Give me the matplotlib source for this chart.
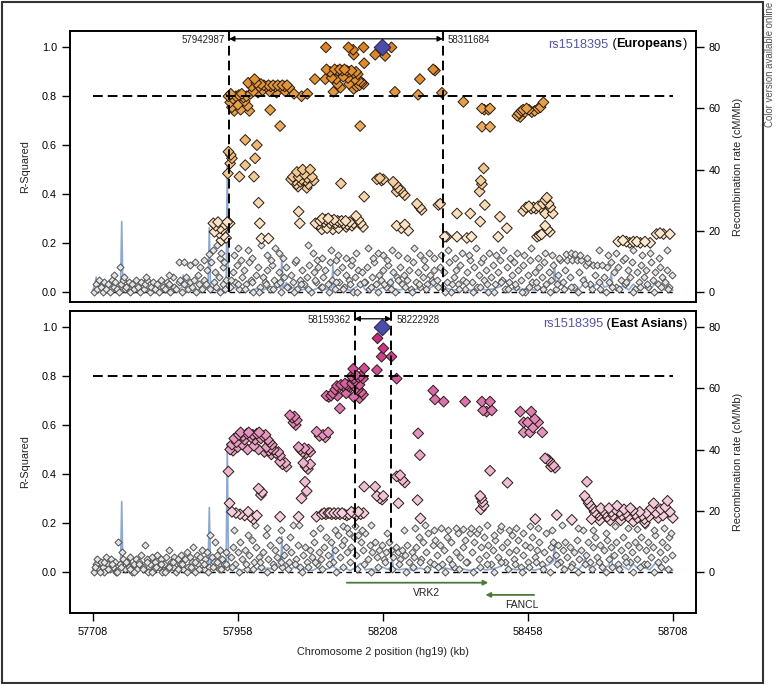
import numpy as np
import matplotlib
matplotlib.use("Agg")
import matplotlib.pyplot as plt
from matplotlib.colors import LinearSegmentedColormap
from matplotlib.patches import Rectangle

plt.rcParams['font.family'] = ['Liberation Sans', 'DejaVu Sans']

# ---- data (positions in kb, r2) ----
lead_pos = 58206
lead_name = "rs1518395"

eur_block = (57942.987, 58311.684)
eas_block = (58159.362, 58222.928)

eur_col = [
    (58110, 1.0), (58149, 1.0), (58157, 0.99), (58175, 1.0), (58223, 1.0), (58158, 0.97), (58195, 0.97),
    (58212, 0.965), (58176, 0.935),
    (58111, 0.91), (58117, 0.9), (58125, 0.91), (58130, 0.905), (58134, 0.91), (58138, 0.905), (58142, 0.91),
    (58146, 0.905), (58150, 0.9), (58154, 0.905), (58158, 0.895), (58162, 0.9), (58165, 0.89), (58295, 0.91),
    (58298, 0.905),
    (58091, 0.87), (58109, 0.87), (58272, 0.87), (58120, 0.875), (58128, 0.87), (58140, 0.88), (58148, 0.875),
    (58160, 0.87), (58166, 0.865), (58170, 0.86), (58172, 0.855), (58168, 0.845), (58163, 0.84), (58158, 0.83),
    (58175, 0.85), (58150, 0.85), (58130, 0.85), (58135, 0.835),
    (57976, 0.855), (57982, 0.84), (57987, 0.87), (57990, 0.855), (57995, 0.84), (57998, 0.85), (58003, 0.845),
    (58007, 0.84), (58011, 0.845), (58015, 0.84), (58019, 0.845), (58023, 0.84), (58027, 0.845), (58031, 0.84),
    (58035, 0.845), (58039, 0.84), (58043, 0.845), (58047, 0.835), (57985, 0.82), (57993, 0.815), (58001, 0.825),
    (58013, 0.82), (58025, 0.815), (58040, 0.82), (58055, 0.81), (58068, 0.8), (58078, 0.81),
    (58123, 0.818), (58229, 0.818), (58269, 0.806), (58310, 0.814), (57942, 0.8), (57946, 0.81), (57950, 0.79),
    (57955, 0.8), (57960, 0.805), (57965, 0.81), (57968, 0.795), (57980, 0.81), (57973, 0.8),
    (57945, 0.775), (57948, 0.755), (57952, 0.74), (57958, 0.765), (57963, 0.745), (57970, 0.78), (57975, 0.76),
    (57978, 0.74), (58014, 0.744), (58347, 0.777), (58379, 0.75), (58383, 0.745), (58393, 0.75), (58390, 0.745),
    (58440, 0.72), (58443, 0.73), (58447, 0.74), (58450, 0.745), (58453, 0.735), (58456, 0.75), (58460, 0.745),
    (58465, 0.735), (58470, 0.74), (58476, 0.75), (58480, 0.755), (58485, 0.775), (58445, 0.715),
    (58031, 0.678), (58169, 0.678), (58379, 0.675), (58393, 0.675),
    (57971, 0.621), (57991, 0.6), (57942, 0.573), (57946, 0.56), (57948, 0.546), (57988, 0.546), (57971, 0.518),
    (57961, 0.471), (57986, 0.471), (57941, 0.484), (57945, 0.525),
    (58050, 0.46), (58053, 0.47), (58056, 0.455), (58059, 0.44), (58060, 0.49), (58063, 0.47), (58066, 0.45),
    (58068, 0.46), (58070, 0.5), (58073, 0.48), (58075, 0.455), (58078, 0.465), (58080, 0.44), (58083, 0.5),
    (58086, 0.47), (58089, 0.455), (58062, 0.43), (58077, 0.425),
    (58136, 0.443), (58198, 0.46), (58203, 0.465), (58206, 0.455), (58209, 0.46), (58226, 0.45), (58230, 0.44),
    (58234, 0.425), (58238, 0.42), (58242, 0.405), (58246, 0.395), (58232, 0.41),
    (58176, 0.389), (58267, 0.36), (58272, 0.345), (58275, 0.335), (57994, 0.364), (58304, 0.355), (58307, 0.36),
    (58063, 0.328),
    (58092, 0.28), (58097, 0.275), (58100, 0.29), (58104, 0.3), (58107, 0.285), (58110, 0.295), (58114, 0.3),
    (58117, 0.28), (58120, 0.29), (58124, 0.295), (58127, 0.28), (58130, 0.29), (58133, 0.285), (58137, 0.29),
    (58140, 0.28), (58144, 0.29), (58147, 0.275), (58151, 0.285), (58155, 0.27), (58158, 0.28), (58162, 0.31),
    (58166, 0.295), (58170, 0.28), (58174, 0.265), (58103, 0.255), (58112, 0.26), (58122, 0.255), (58132, 0.26),
    (58145, 0.265),
    (57996, 0.28), (58065, 0.28), (58232, 0.27), (58240, 0.26), (58246, 0.275), (58252, 0.25),
    (57916, 0.28), (57920, 0.27), (57924, 0.285), (57928, 0.26), (57932, 0.255), (57936, 0.275), (57940, 0.285),
    (57944, 0.28), (57918, 0.245), (57926, 0.24), (57934, 0.23), (57930, 0.21), (57938, 0.22),
    (57999, 0.218), (58011, 0.218), (58318, 0.225),
    (58384, 0.355), (58336, 0.32), (58359, 0.32), (58410, 0.307), (58376, 0.287), (58382, 0.505), (58377, 0.455),
    (58379, 0.44), (58375, 0.41),
    (58450, 0.33), (58455, 0.345), (58460, 0.35), (58464, 0.34), (58468, 0.345), (58472, 0.34), (58476, 0.35),
    (58480, 0.345), (58484, 0.36), (58488, 0.375), (58491, 0.385), (58494, 0.36), (58497, 0.345), (58488, 0.32),
    (58501, 0.32),
    (58422, 0.26), (58488, 0.27), (58492, 0.255), (58496, 0.245), (58315, 0.225), (58336, 0.225), (58353, 0.22),
    (58361, 0.225), (58407, 0.225), (58474, 0.225), (58478, 0.23), (58482, 0.235),
    (58614, 0.205), (58622, 0.21), (58628, 0.205), (58634, 0.2), (58640, 0.205), (58646, 0.205), (58652, 0.2),
    (58660, 0.205), (58669, 0.2), (58680, 0.236), (58686, 0.24), (58692, 0.236), (58703, 0.236),
]

eas_col = [
    (58199, 0.955), (58209, 0.914), (58206, 0.88), (58223, 0.88), (58198, 0.825), (58176, 0.832), (58157, 0.83),
    (58232, 0.79),
    (58154, 0.8), (58158, 0.79), (58162, 0.805), (58166, 0.795), (58170, 0.8), (58174, 0.79), (58160, 0.78),
    (58111, 0.72), (58115, 0.715), (58119, 0.72), (58122, 0.73), (58126, 0.745), (58129, 0.76), (58133, 0.755),
    (58136, 0.765), (58140, 0.76), (58143, 0.77), (58146, 0.765), (58149, 0.76), (58152, 0.755), (58155, 0.77),
    (58158, 0.76), (58162, 0.75), (58165, 0.745), (58168, 0.765), (58171, 0.735), (58174, 0.725), (58130, 0.72),
    (58145, 0.73), (58158, 0.715), (58168, 0.71),
    (58134, 0.668), (58295, 0.741), (58298, 0.705), (58313, 0.696), (58350, 0.696), (58379, 0.696),
    (58393, 0.696), (58381, 0.66), (58387, 0.655), (58396, 0.66),
    (58048, 0.64), (58052, 0.63), (58056, 0.635), (58060, 0.62), (58054, 0.61), (58058, 0.6),
    (57945, 0.5), (57948, 0.52), (57952, 0.545), (57956, 0.53), (57960, 0.56), (57963, 0.57), (57967, 0.555),
    (57970, 0.54), (57974, 0.565), (57977, 0.57), (57981, 0.55), (57984, 0.56), (57988, 0.54), (57991, 0.565),
    (57995, 0.57), (57998, 0.545), (58002, 0.555), (58006, 0.56), (58010, 0.54), (58013, 0.53), (58017, 0.52),
    (57950, 0.495), (57958, 0.51), (57966, 0.52), (57975, 0.5), (57986, 0.515), (57994, 0.5), (58004, 0.49),
    (58015, 0.505),
    (58094, 0.573), (58099, 0.555), (58105, 0.56), (58109, 0.55), (58114, 0.57), (58269, 0.566),
    (58008, 0.51), (58012, 0.495), (58016, 0.48), (58020, 0.5), (58024, 0.485), (58028, 0.49), (58031, 0.475),
    (58063, 0.51), (58066, 0.5), (58070, 0.49), (58073, 0.505), (58076, 0.485), (58080, 0.5), (58083, 0.49),
    (58272, 0.477),
    (58031, 0.45), (58035, 0.44), (58040, 0.445), (58042, 0.43), (58071, 0.445), (58075, 0.43), (58079, 0.42),
    (58083, 0.44),
    (57942, 0.41), (58232, 0.39), (58238, 0.395), (58242, 0.375), (58246, 0.365), (58074, 0.368), (57994, 0.34),
    (58000, 0.325), (57998, 0.314), (58077, 0.33), (58176, 0.348), (58195, 0.348), (58198, 0.31), (58203, 0.3),
    (58207, 0.295), (58209, 0.31), (58068, 0.3), (58268, 0.293), (58235, 0.28), (57944, 0.28),
    (57948, 0.245), (57955, 0.24), (57962, 0.235), (57970, 0.23), (57976, 0.245), (57980, 0.225), (57985, 0.215),
    (57991, 0.23), (58031, 0.225), (58063, 0.225), (58094, 0.225),
    (58103, 0.235), (58107, 0.24), (58110, 0.235), (58114, 0.24), (58117, 0.24), (58120, 0.235), (58124, 0.24),
    (58127, 0.235), (58131, 0.24), (58134, 0.235), (58138, 0.24), (58142, 0.235), (58146, 0.23), (58150, 0.235),
    (58154, 0.245), (58158, 0.24), (58162, 0.23), (58166, 0.245), (58170, 0.235), (58175, 0.24), (58273, 0.218),
    (58445, 0.655), (58451, 0.611), (58458, 0.611), (58464, 0.655), (58470, 0.625), (58476, 0.611), (58451, 0.57),
    (58462, 0.57), (58483, 0.57), (58467, 0.59),
    (58488, 0.464), (58492, 0.46), (58495, 0.455), (58498, 0.43), (58502, 0.435), (58505, 0.425), (58393, 0.413),
    (58423, 0.364), (58560, 0.368),
    (58376, 0.31), (58378, 0.3), (58380, 0.285), (58382, 0.27), (58377, 0.255),
    (58508, 0.232), (58534, 0.212), (58471, 0.215),
    (58556, 0.31), (58560, 0.295), (58563, 0.28), (58566, 0.27), (58570, 0.26), (58573, 0.245), (58577, 0.24),
    (58580, 0.23), (58584, 0.26), (58587, 0.25), (58591, 0.24), (58595, 0.225), (58598, 0.26), (58602, 0.245),
    (58605, 0.23), (58609, 0.255), (58612, 0.27), (58616, 0.245), (58620, 0.23), (58624, 0.255), (58627, 0.24),
    (58631, 0.225), (58635, 0.26), (58639, 0.25), (58643, 0.235), (58647, 0.22), (58651, 0.245), (58655, 0.23),
    (58659, 0.215), (58663, 0.24), (58667, 0.225), (58671, 0.26), (58675, 0.28), (58679, 0.24), (58683, 0.22),
    (58687, 0.255), (58691, 0.23), (58695, 0.265), (58699, 0.29), (58703, 0.245), (58708, 0.22), (58568, 0.215),
    (58582, 0.21), (58600, 0.21), (58618, 0.21), (58640, 0.205), (58660, 0.2),
]

eur_grey = [
    (57710, 0.0), (57713, 0.03), (57716, 0.01), (57719, 0.05), (57722, 0.02), (57725, 0.0), (57728, 0.04),
    (57731, 0.01), (57734, 0.03), (57738, 0.0), (57741, 0.05), (57744, 0.02), (57747, 0.04), (57750, 0.01),
    (57753, 0.0), (57757, 0.03), (57760, 0.05), (57763, 0.01), (57766, 0.02), (57770, 0.04), (57773, 0.0),
    (57776, 0.03), (57779, 0.01), (57783, 0.05), (57786, 0.02), (57789, 0.0), (57792, 0.04), (57796, 0.01),
    (57799, 0.03), (57802, 0.05), (57806, 0.0), (57809, 0.02), (57812, 0.04), (57816, 0.01), (57819, 0.03),
    (57822, 0.0), (57826, 0.05), (57829, 0.02), (57832, 0.01), (57836, 0.04), (57839, 0.03), (57842, 0.0),
    (57846, 0.06), (57849, 0.02), (57852, 0.01), (57856, 0.04), (57859, 0.05), (57862, 0.0), (57866, 0.03),
    (57869, 0.06), (57872, 0.01), (57876, 0.04), (57879, 0.02), (57882, 0.05), (57886, 0.0), (57889, 0.07),
    (57892, 0.03), (57896, 0.01), (57899, 0.05),
    (57745, 0.07), (57755, 0.1), (57762, 0.06), (57800, 0.06), (57840, 0.07), (57857, 0.12), (57866, 0.12),
    (57875, 0.11), (57884, 0.12), (57893, 0.1), (57900, 0.13), (57905, 0.09), (57908, 0.155), (57912, 0.12),
    (57915, 0.17), (57919, 0.08), (57922, 0.19), (57925, 0.06), (57928, 0.14), (57930, 0.16), (57933, 0.1),
    (57935, 0.12), (57938, 0.05), (57903, 0.03), (57910, 0.01), (57917, 0.04), (57921, 0.02), (57927, 0.0),
    (57932, 0.03), (57936, 0.01),
    (57945, 0.02), (57949, 0.08), (57953, 0.04), (57957, 0.11), (57961, 0.01), (57965, 0.06), (57969, 0.09),
    (57973, 0.03), (57977, 0.12), (57981, 0.05), (57985, 0.0), (57989, 0.07), (57993, 0.1), (57997, 0.02),
    (58001, 0.06), (58005, 0.04), (58009, 0.09), (58013, 0.01), (58017, 0.11), (58021, 0.05), (58025, 0.03),
    (58029, 0.08), (58033, 0.0), (58037, 0.06), (58041, 0.1), (58045, 0.02), (58049, 0.07), (58053, 0.04),
    (58057, 0.12), (58061, 0.01), (58065, 0.05), (58069, 0.09), (58073, 0.03), (58077, 0.06), (58081, 0.11),
    (58085, 0.0), (58089, 0.08), (58093, 0.04), (58097, 0.1), (58101, 0.02), (58105, 0.06), (58109, 0.09),
    (58113, 0.03), (58117, 0.12), (58121, 0.05), (58125, 0.01), (58129, 0.08), (58133, 0.04), (58137, 0.1),
    (58141, 0.02), (58145, 0.07), (58149, 0.05), (58153, 0.11), (58157, 0.0), (58161, 0.06), (58165, 0.09),
    (58169, 0.03), (58173, 0.08), (58177, 0.04), (58181, 0.1), (58185, 0.01), (58189, 0.06), (58193, 0.12),
    (58197, 0.03), (58201, 0.07), (58205, 0.05), (58209, 0.09), (58213, 0.02), (58217, 0.11), (58221, 0.04),
    (58225, 0.08), (58229, 0.0), (58233, 0.06), (58237, 0.1), (58241, 0.03), (58245, 0.07), (58249, 0.05),
    (58253, 0.09), (58257, 0.01), (58261, 0.12), (58265, 0.04), (58269, 0.08), (58273, 0.02), (58277, 0.06),
    (58281, 0.1), (58285, 0.03), (58289, 0.07), (58293, 0.05), (58297, 0.09),
    (57951, 0.15), (57958, 0.18), (57964, 0.13), (57975, 0.17), (57983, 0.14), (57998, 0.19), (58008, 0.15),
    (58016, 0.13), (58022, 0.18), (58030, 0.16), (58036, 0.14), (58058, 0.13), (58079, 0.19), (58088, 0.16),
    (58095, 0.13), (58103, 0.14), (58118, 0.17), (58127, 0.13), (58131, 0.15), (58144, 0.14), (58155, 0.13),
    (58162, 0.16), (58183, 0.18), (58192, 0.14), (58200, 0.16), (58208, 0.15), (58216, 0.13), (58224, 0.17),
    (58235, 0.15), (58250, 0.14), (58262, 0.18), (58272, 0.15), (58279, 0.13), (58287, 0.16), (58296, 0.14),
    (57947, 0.05), (57959, 0.03), (57971, 0.01), (57983, 0.04), (57995, 0.0), (58007, 0.03), (58019, 0.01),
    (58031, 0.04), (58043, 0.02), (58055, 0.0), (58067, 0.03), (58079, 0.01), (58091, 0.05), (58103, 0.02),
    (58115, 0.0), (58127, 0.04), (58139, 0.01), (58151, 0.03), (58163, 0.0), (58175, 0.04), (58187, 0.02),
    (58199, 0.0), (58211, 0.03), (58223, 0.01), (58235, 0.05), (58247, 0.02), (58259, 0.0), (58271, 0.03),
    (58283, 0.01), (58295, 0.04),
    (58302, 0.05), (58306, 0.1), (58310, 0.02), (58314, 0.08), (58318, 0.04), (58322, 0.12), (58326, 0.0),
    (58330, 0.06), (58334, 0.09), (58338, 0.03), (58342, 0.11), (58346, 0.05), (58350, 0.01), (58354, 0.08),
    (58358, 0.13), (58362, 0.04), (58366, 0.1), (58370, 0.02), (58374, 0.07), (58378, 0.12), (58382, 0.05),
    (58386, 0.09), (58390, 0.0), (58394, 0.06), (58398, 0.11), (58402, 0.03), (58406, 0.08), (58410, 0.13),
    (58414, 0.05), (58418, 0.01), (58422, 0.1), (58426, 0.04), (58430, 0.07), (58434, 0.12), (58438, 0.02),
    (58442, 0.09), (58446, 0.05), (58450, 0.11), (58454, 0.0), (58458, 0.07), (58462, 0.13), (58466, 0.04),
    (58470, 0.08), (58474, 0.02), (58478, 0.1), (58482, 0.06), (58486, 0.12), (58490, 0.03), (58494, 0.08),
    (58498, 0.05), (58502, 0.11), (58506, 0.01), (58510, 0.07), (58514, 0.13), (58518, 0.04), (58522, 0.09),
    (58526, 0.13), (58530, 0.06), (58534, 0.13), (58538, 0.02), (58542, 0.13), (58546, 0.08), (58550, 0.13),
    (58554, 0.05), (58558, 0.11), (58562, 0.12), (58566, 0.03), (58570, 0.11), (58574, 0.07), (58578, 0.11),
    (58582, 0.01), (58586, 0.11), (58590, 0.06), (58594, 0.1), (58598, 0.04), (58602, 0.12), (58606, 0.08),
    (58610, 0.02), (58614, 0.1), (58618, 0.05), (58622, 0.13), (58626, 0.03), (58630, 0.09), (58634, 0.06),
    (58638, 0.12), (58642, 0.01), (58646, 0.08), (58650, 0.04), (58654, 0.11), (58658, 0.06), (58662, 0.09),
    (58666, 0.02), (58670, 0.12), (58674, 0.05), (58678, 0.08), (58682, 0.03), (58686, 0.1), (58690, 0.06),
    (58694, 0.04), (58698, 0.09), (58702, 0.02), (58706, 0.07),
    (58308, 0.15), (58320, 0.17), (58333, 0.14), (58345, 0.16), (58357, 0.15), (58368, 0.18), (58380, 0.14),
    (58392, 0.16), (58404, 0.15), (58416, 0.17), (58428, 0.14), (58440, 0.16), (58452, 0.15), (58464, 0.18),
    (58476, 0.14), (58488, 0.16), (58500, 0.15), (58512, 0.14), (58524, 0.155), (58532, 0.16), (58540, 0.155),
    (58548, 0.15), (58560, 0.14), (58580, 0.17), (58596, 0.15), (58610, 0.16), (58626, 0.14), (58640, 0.17),
    (58655, 0.15), (58668, 0.16), (58684, 0.14), (58698, 0.17),
    (58304, 0.02), (58316, 0.0), (58328, 0.03), (58340, 0.01), (58352, 0.04), (58364, 0.0), (58376, 0.02),
    (58388, 0.03), (58400, 0.0), (58412, 0.04), (58424, 0.01), (58436, 0.03), (58448, 0.0), (58460, 0.02),
    (58472, 0.04), (58484, 0.01), (58496, 0.0), (58508, 0.03), (58520, 0.01), (58532, 0.02), (58544, 0.0),
    (58556, 0.03), (58568, 0.01), (58580, 0.04), (58592, 0.0), (58604, 0.02), (58616, 0.01), (58628, 0.04),
    (58640, 0.0), (58652, 0.02), (58664, 0.03), (58676, 0.0), (58688, 0.02), (58700, 0.01),
]

eas_grey = [
    (57710, 0.0), (57713, 0.03), (57716, 0.05), (57719, 0.01), (57722, 0.04), (57725, 0.02), (57728, 0.0),
    (57731, 0.06), (57734, 0.03), (57737, 0.01), (57740, 0.05), (57743, 0.02), (57746, 0.04), (57749, 0.0),
    (57752, 0.123), (57755, 0.03), (57758, 0.08), (57761, 0.05), (57764, 0.01), (57767, 0.04), (57770, 0.02),
    (57773, 0.06), (57776, 0.0), (57779, 0.03), (57782, 0.05), (57785, 0.01), (57788, 0.04), (57791, 0.07),
    (57794, 0.02), (57798, 0.11), (57801, 0.05), (57804, 0.0), (57807, 0.03), (57810, 0.06), (57813, 0.01),
    (57816, 0.04), (57819, 0.07), (57822, 0.02), (57825, 0.05), (57828, 0.0), (57831, 0.03), (57834, 0.06),
    (57837, 0.01), (57840, 0.09), (57843, 0.04), (57846, 0.02), (57849, 0.06), (57852, 0.0), (57855, 0.05),
    (57858, 0.03), (57861, 0.07), (57864, 0.01), (57867, 0.05), (57870, 0.08), (57873, 0.02), (57876, 0.06),
    (57879, 0.04), (57881, 0.1), (57884, 0.0), (57887, 0.07), (57890, 0.03), (57893, 0.06), (57896, 0.09),
    (57899, 0.01), (57902, 0.05), (57905, 0.08), (57908, 0.02), (57911, 0.15), (57914, 0.06), (57917, 0.04),
    (57919, 0.12), (57922, 0.07), (57925, 0.01), (57928, 0.09), (57931, 0.05), (57934, 0.03), (57937, 0.08),
    (57940, 0.02),
    (57712, 0.02), (57720, 0.0), (57727, 0.04), (57735, 0.01), (57742, 0.03), (57750, 0.0), (57757, 0.02),
    (57765, 0.04), (57772, 0.01), (57780, 0.0), (57787, 0.03), (57795, 0.01), (57802, 0.04), (57810, 0.0),
    (57817, 0.02), (57825, 0.03), (57832, 0.0), (57840, 0.02), (57847, 0.04), (57855, 0.01), (57862, 0.03),
    (57870, 0.0), (57877, 0.02), (57885, 0.04), (57892, 0.01), (57900, 0.03), (57907, 0.0), (57915, 0.02),
    (57922, 0.04), (57930, 0.01), (57937, 0.03),
    (57946, 0.06), (57950, 0.1), (57954, 0.03), (57958, 0.08), (57962, 0.12), (57966, 0.05), (57970, 0.09),
    (57974, 0.01), (57978, 0.07), (57982, 0.13), (57986, 0.04), (57990, 0.1), (57994, 0.06), (57998, 0.02),
    (58002, 0.08), (58006, 0.15), (58010, 0.05), (58014, 0.11), (58018, 0.03), (58022, 0.09), (58026, 0.06),
    (58030, 0.13), (58034, 0.02), (58038, 0.07), (58042, 0.1), (58046, 0.04), (58050, 0.08), (58054, 0.19),
    (58058, 0.05), (58062, 0.11), (58066, 0.02), (58070, 0.07), (58074, 0.1), (58078, 0.04), (58082, 0.09),
    (58086, 0.06), (58090, 0.12), (58094, 0.03), (58098, 0.08), (58102, 0.05), (58106, 0.1), (58110, 0.14),
    (58114, 0.07), (58118, 0.12), (58122, 0.04), (58126, 0.09), (58130, 0.15), (58134, 0.06), (58138, 0.11),
    (58142, 0.13), (58146, 0.08), (58150, 0.16), (58154, 0.1), (58158, 0.14), (58162, 0.07), (58166, 0.15),
    (58170, 0.12), (58174, 0.09), (58178, 0.16), (58182, 0.05), (58186, 0.11), (58190, 0.08), (58194, 0.12),
    (58198, 0.06), (58202, 0.09), (58206, 0.11), (58210, 0.05), (58214, 0.08), (58218, 0.12), (58222, 0.09),
    (58226, 0.06), (58230, 0.1), (58234, 0.08), (58238, 0.05), (58242, 0.09), (58246, 0.07), (58250, 0.11),
    (58254, 0.04), (58258, 0.08), (58262, 0.06), (58266, 0.1), (58270, 0.14), (58274, 0.05), (58278, 0.12),
    (58282, 0.08), (58286, 0.16), (58290, 0.04), (58294, 0.11), (58298, 0.13),
    (57952, 0.17), (57976, 0.15), (57988, 0.19), (58008, 0.18), (58033, 0.17), (58048, 0.14), (58064, 0.19),
    (58088, 0.16), (58100, 0.18), (58126, 0.17), (58139, 0.185), (58147, 0.18), (58160, 0.185), (58172, 0.17),
    (58188, 0.19), (58215, 0.16), (58244, 0.17), (58263, 0.18), (58281, 0.19), (58296, 0.17),
    (57948, 0.02), (57960, 0.0), (57972, 0.03), (57984, 0.01), (57996, 0.04), (58008, 0.0), (58020, 0.02),
    (58032, 0.04), (58044, 0.01), (58056, 0.03), (58068, 0.0), (58080, 0.02), (58092, 0.04), (58104, 0.01),
    (58116, 0.03), (58128, 0.0), (58140, 0.02), (58152, 0.04), (58164, 0.01), (58176, 0.03), (58188, 0.0),
    (58200, 0.02), (58212, 0.04), (58224, 0.01), (58236, 0.03), (58248, 0.0), (58260, 0.02), (58272, 0.04),
    (58284, 0.01), (58296, 0.03),
    (58302, 0.07), (58306, 0.11), (58310, 0.03), (58314, 0.09), (58318, 0.14), (58322, 0.05), (58326, 0.12),
    (58330, 0.02), (58334, 0.08), (58338, 0.16), (58342, 0.06), (58346, 0.1), (58350, 0.13), (58354, 0.04),
    (58358, 0.16), (58362, 0.08), (58366, 0.12), (58370, 0.16), (58374, 0.05), (58378, 0.1), (58382, 0.14),
    (58386, 0.07), (58390, 0.11), (58394, 0.03), (58398, 0.09), (58402, 0.13), (58406, 0.06), (58410, 0.17),
    (58414, 0.1), (58418, 0.04), (58422, 0.12), (58426, 0.08), (58430, 0.15), (58434, 0.05), (58438, 0.09),
    (58442, 0.13), (58446, 0.02), (58450, 0.07), (58454, 0.11), (58458, 0.04), (58462, 0.1), (58466, 0.14),
    (58470, 0.06), (58474, 0.09), (58478, 0.12), (58482, 0.03), (58486, 0.08), (58490, 0.16), (58494, 0.05),
    (58498, 0.1), (58502, 0.12), (58506, 0.07), (58510, 0.11), (58514, 0.04), (58518, 0.09), (58522, 0.12),
    (58526, 0.06), (58530, 0.1), (58534, 0.03), (58538, 0.08), (58542, 0.13), (58546, 0.05), (58550, 0.09),
    (58554, 0.17), (58558, 0.07), (58562, 0.12), (58566, 0.04), (58570, 0.1), (58574, 0.14), (58578, 0.06),
    (58582, 0.11), (58586, 0.02), (58590, 0.09), (58594, 0.13), (58598, 0.05), (58602, 0.1), (58606, 0.07),
    (58610, 0.12), (58614, 0.03), (58618, 0.09), (58622, 0.14), (58626, 0.06), (58630, 0.11), (58634, 0.04),
    (58638, 0.08), (58642, 0.12), (58646, 0.05), (58650, 0.1), (58654, 0.14), (58658, 0.03), (58662, 0.09),
    (58666, 0.12), (58670, 0.06), (58674, 0.1), (58678, 0.15), (58682, 0.04), (58686, 0.08), (58690, 0.12),
    (58694, 0.05), (58698, 0.1), (58702, 0.14), (58706, 0.07),
    (58309, 0.18), (58321, 0.17), (58335, 0.18), (58347, 0.175), (58360, 0.18), (58374, 0.175), (58387, 0.19),
    (58399, 0.15), (58412, 0.185), (58425, 0.17), (58437, 0.18), (58449, 0.16), (58461, 0.185), (58476, 0.18),
    (58499, 0.17), (58517, 0.19), (58545, 0.18), (58570, 0.17), (58592, 0.16), (58608, 0.185), (58631, 0.18),
    (58646, 0.175), (58660, 0.19), (58676, 0.17), (58692, 0.18), (58705, 0.16),
    (58304, 0.02), (58316, 0.0), (58328, 0.03), (58340, 0.01), (58352, 0.04), (58364, 0.0), (58376, 0.02),
    (58388, 0.03), (58400, 0.0), (58412, 0.04), (58424, 0.01), (58436, 0.03), (58448, 0.0), (58460, 0.02),
    (58472, 0.04), (58484, 0.01), (58496, 0.0), (58508, 0.03), (58520, 0.01), (58532, 0.02), (58544, 0.0),
    (58556, 0.03), (58568, 0.01), (58580, 0.04), (58592, 0.0), (58604, 0.02), (58616, 0.01), (58628, 0.04),
    (58640, 0.0), (58652, 0.02), (58664, 0.03), (58676, 0.0), (58688, 0.02), (58700, 0.01),
]

# recombination rate (cM/Mb)
recomb = [
    (57708, 0.5), (57712, 2.5), (57714, 4.8), (57716, 1.0), (57720, 3.5), (57724, 0.8), (57728, 2.0),
    (57732, 0.5), (57738, 1.5), (57744, 3.0), (57748, 0.6), (57752, 1.2), (57756, 2.0), (57758, 23.0),
    (57760, 2.0), (57764, 1.0), (57770, 3.0), (57776, 0.8), (57782, 1.5), (57788, 0.6), (57794, 2.5),
    (57800, 1.0), (57808, 0.7), (57816, 1.8), (57824, 0.5), (57832, 1.2), (57840, 0.6), (57848, 2.0),
    (57856, 0.8), (57862, 1.5), (57864, 5.5), (57866, 1.5), (57872, 0.8), (57880, 1.8), (57888, 0.6),
    (57896, 1.2), (57904, 1.0), (57907, 2.0), (57909, 21.0), (57911, 2.0), (57916, 1.0), (57922, 0.6),
    (57928, 1.0), (57934, 0.8), (57938, 2.0), (57940, 42.0), (57942, 2.0), (57946, 0.5), (57954, 1.5),
    (57962, 0.4), (57970, 0.8), (57980, 0.3), (57990, 1.0), (58000, 0.5), (58010, 1.2), (58020, 0.6),
    (58028, 2.0), (58032, 1.0), (58034, 11.5), (58036, 1.0), (58042, 3.0), (58048, 0.8), (58056, 1.5),
    (58066, 0.5), (58076, 1.0), (58086, 0.4), (58096, 1.2), (58106, 0.6), (58114, 1.0), (58120, 1.5),
    (58122, 8.7), (58124, 1.5), (58132, 0.6), (58142, 1.2), (58152, 0.4), (58162, 1.5), (58170, 2.8),
    (58178, 0.6), (58188, 1.0), (58198, 0.4), (58208, 1.5), (58216, 0.8), (58222, 1.5), (58224, 4.4),
    (58226, 1.2), (58236, 0.6), (58248, 1.0), (58260, 0.4), (58272, 1.2), (58284, 0.5), (58296, 2.0),
    (58304, 0.8), (58316, 1.2), (58330, 0.5), (58344, 1.0), (58358, 0.4), (58372, 1.2), (58386, 0.6),
    (58400, 1.0), (58412, 1.8), (58420, 3.8), (58426, 1.0), (58440, 0.6), (58456, 1.0), (58470, 0.5),
    (58484, 1.2), (58496, 2.5), (58502, 3.5), (58504, 9.8), (58506, 3.0), (58512, 4.0), (58518, 2.0),
    (58526, 1.0), (58536, 1.8), (58546, 0.8), (58554, 2.5), (58557, 5.0), (58560, 2.0), (58568, 1.0),
    (58576, 2.5), (58584, 3.5), (58590, 1.5), (58598, 2.0), (58602, 6.0), (58604, 2.0), (58612, 1.0),
    (58622, 1.8), (58632, 0.6), (58640, 2.5), (58648, 1.0), (58658, 1.5), (58668, 0.6), (58678, 2.8),
    (58686, 1.2), (58694, 0.6), (58702, 1.5), (58708, 0.5),
]

genes = [("VRK2", 58146, 58390, -0.045), ("FANCL", 58469, 58385, -0.095)]
xticks = [57708, 57958, 58208, 58458, 58708]

eur_cmap = LinearSegmentedColormap.from_list(
    "eur", [(0.0, "#FBEBD6"), (0.3, "#F2D0A2"), (0.55, "#EAB265"), (0.8, "#E2963A"), (1.0, "#DB8424")])
eas_cmap = LinearSegmentedColormap.from_list(
    "eas", [(0.0, "#F4D4E4"), (0.3, "#EBB2D1"), (0.55, "#DE82B8"), (0.8, "#CF4D98"), (1.0, "#C41C7E")])

W, H = 776, 684
fig = plt.figure(figsize=(W / 100, H / 100), dpi=100)
L, R = 69.5, 696
ax1 = fig.add_axes([L / W, 1 - 302 / H, (R - L) / W, (302 - 31) / H])
ax2 = fig.add_axes([L / W, 1 - 613 / H, (R - L) / W, (613 - 310.7) / H])


def draw_panel(ax, grey, col, cmap, block, pop, ylim):
    ax.set_xlim(57668, 58748)
    ax.set_ylim(*ylim)

    rx, rr = zip(*recomb)
    axr = ax.twinx()
    axr.set_ylim(ylim[0] * 80, ylim[1] * 80)
    axr.plot(rx, rr, color="#8DA9D1", lw=1.2, zorder=1)
    axr.set_yticks([0, 20, 40, 60, 80])
    axr.tick_params(axis="y", direction="out", length=6, width=1, labelsize=7.8, pad=3)
    axr.set_ylabel("Recombination rate (cM/Mb)", fontsize=7.8, color="#222")
    axr.yaxis.set_label_coords(1 + (733 - R) / (R - L), 0.5)
    for s in axr.spines.values():
        s.set_visible(False)
    ax.set_zorder(axr.get_zorder() + 1)
    ax.patch.set_visible(False)

    ax.plot([57708, 58708], [0, 0], color="black", lw=1.0, ls=(0, (4, 3)), zorder=2)
    gx, gy = zip(*grey)
    ax.scatter(gx, gy, marker="D", s=13, facecolor="#E4E4E4", edgecolor="#4E4E4E", linewidth=0.7, zorder=3)

    col = sorted(col, key=lambda p: p[1])
    cx, cy = zip(*col)
    ax.scatter(cx, cy, marker="D", s=30, c=cy, cmap=cmap, vmin=0.2, vmax=1.0,
               edgecolor="#2A1A10", linewidth=0.7, zorder=4)
    ax.scatter([lead_pos], [1.0], marker="D", s=70, color="#4B4BA8", edgecolor="#2A2A55",
               linewidth=0.8, zorder=6)

    ax.plot([57708, 58708], [0.8, 0.8], color="black", lw=1.4, ls=(0, (5, 2.6)), zorder=5)
    for xb in block:
        ax.plot([xb, xb], [0, ylim[1]], color="black", lw=1.4, ls=(0, (5, 2.6)), zorder=5)
    ax.annotate("", xy=(block[1], 1.035), xytext=(block[0], 1.035),
                arrowprops=dict(arrowstyle="<|-|>", color="black", lw=0.9, mutation_scale=8,
                                shrinkA=0, shrinkB=0), zorder=6)
    ax.text(block[0] - 7, 1.03, f"{int(round(block[0] * 1000))}", ha="right", va="center",
            fontsize=7, color="#222")
    ax.text(block[1] + 8, 1.03, f"{int(round(block[1] * 1000))}", ha="left", va="center",
            fontsize=7, color="#222")

    # title: rs id (population)
    ty = 1 - 13.5 / (ax.get_window_extent().height)
    t = ax.text(0.9856, ty, ")", transform=ax.transAxes, ha="right", va="center", fontsize=9.2)
    t = ax.annotate(pop, xy=(0, 0.5), xycoords=t, ha="right", va="center", fontsize=9.2,
                    fontweight="bold")
    t = ax.annotate(" (", xy=(0, 0.5), xycoords=t, ha="right", va="center", fontsize=9.2)
    ax.annotate(lead_name, xy=(0, 0.5), xycoords=t, ha="right", va="center", fontsize=9.2,
                color="#5656A3")

    ax.set_yticks([0, 0.2, 0.4, 0.6, 0.8, 1.0])
    ax.set_yticklabels(["0.0", "0.2", "0.4", "0.6", "0.8", "1.0"])
    ax.tick_params(axis="y", direction="out", length=6, width=1, labelsize=7.8, pad=3)
    ax.set_ylabel("R-Squared", fontsize=7.8, color="#222")
    ax.yaxis.set_label_coords(-(L - 30) / (R - L), 0.5)
    for s in ax.spines.values():
        s.set_linewidth(1.4)
    return axr


draw_panel(ax1, eur_grey, eur_col, eur_cmap, eur_block, "Europeans", (-0.042, 1.067))
draw_panel(ax2, eas_grey, eas_col, eas_cmap, eas_block, "East Asians", (-0.169, 1.068))

ax1.set_xticks([])
ax2.set_xticks(xticks)
ax2.set_xticklabels([str(x) for x in xticks])
ax2.tick_params(axis="x", direction="out", length=6, width=1, labelsize=7.8, pad=4)
ax2.set_xlabel("Chromosome 2 position (hg19) (kb)", fontsize=7.8, color="#222")
ax2.xaxis.set_label_coords(0.5, -(647 - 613) / (613 - 310.7))

for name, x0, x1, y in genes:
    ax2.annotate("", xy=(x1, y), xytext=(x0, y),
                 arrowprops=dict(arrowstyle="-|>", color="#4C7A3C", lw=1.3, mutation_scale=7,
                                 shrinkA=0, shrinkB=0))
    ax2.text((x0 + x1) / 2 + (20 if name == "FANCL" else 15), y - 0.042, name, ha="center",
             va="center", fontsize=7.5, color="#222")

fig.patches.append(Rectangle((0.002, 0.002), 0.981, 0.995, transform=fig.transFigure, fill=False,
                             edgecolor="#333333", linewidth=1.5))
fig.text(770 / W, 1 - 2 / H, "Color version available online", rotation=90, ha="center", va="top",
         fontsize=6.9, color="#555555")

fig.savefig("out.png", dpi=100)
